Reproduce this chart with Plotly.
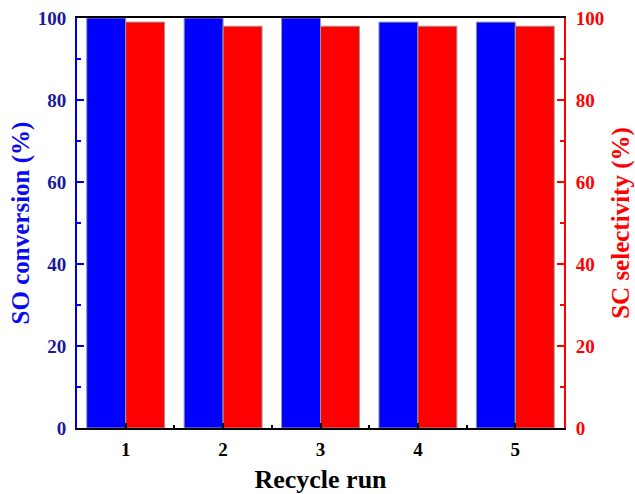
import plotly.graph_objects as go

runs = [1, 2, 3, 4, 5]
so_conversion = [100, 100, 100, 99, 99]
sc_selectivity = [99, 98, 98, 98, 98]
y_ticks = [0, 20, 40, 60, 80, 100]

FONT = "Liberation Serif"
BLUE_LINE = "#0000e6"
BLUE_LAB = "#1a1a99"
RED = "#ff0000"

fig = go.Figure()
fig.add_trace(go.Bar(x=runs, y=so_conversion, name="SO conversion",
                     marker=dict(color="#0000ff", line=dict(color="#9a9a9a", width=1)),
                     offsetgroup="a", yaxis="y"))
fig.add_trace(go.Bar(x=runs, y=sc_selectivity, name="SC selectivity",
                     marker=dict(color="#ff0000", line=dict(color="#9a9a9a", width=1)),
                     offsetgroup="b", yaxis="y2"))

fig.update_layout(
    width=635, height=494,
    margin=dict(l=77, r=71, t=18, b=66, autoexpand=False),
    paper_bgcolor="white", plot_bgcolor="white",
    showlegend=False,
    barmode="group", bargap=0.2, bargroupgap=0,
    font=dict(family=FONT),
    xaxis=dict(
        range=[0.5, 5.5], tickmode="array", tickvals=runs, ticktext=[str(r) for r in runs],
        showline=True, linecolor="black", linewidth=2, mirror=True, automargin=False,
        ticks="inside", ticklen=5, tickwidth=1.5, tickcolor="black",
        minor=dict(dtick=0.5, tick0=0.5, ticks="inside", ticklen=3, tickcolor="black", tickwidth=1.5),
        showgrid=False, zeroline=False, ticklabelstandoff=3,
        tickfont=dict(family=FONT, size=19, color="black", weight="bold"),
        title=dict(text="Recycle run", font=dict(family=FONT, size=26, color="black", weight="bold"),
                   standoff=14),
    ),
    yaxis=dict(
        range=[0, 100], tickvals=y_ticks, automargin=False,
        showline=True, linecolor=BLUE_LINE, linewidth=2,
        ticks="inside", ticklen=7, tickwidth=1.5, tickcolor=BLUE_LINE,
        minor=dict(dtick=10, ticks="inside", ticklen=4, tickcolor=BLUE_LINE, tickwidth=1.5),
        showgrid=False, zeroline=False, ticklabelstandoff=5,
        tickfont=dict(family=FONT, size=19, color=BLUE_LAB, weight="bold"),
        title=dict(text="SO conversion (%)", font=dict(family=FONT, size=25, color="#0a0af0", weight="bold"),
                   standoff=1),
    ),
    yaxis2=dict(
        range=[0, 100], tickvals=y_ticks, overlaying="y", side="right", automargin=False,
        showline=True, linecolor=RED, linewidth=2,
        ticks="inside", ticklen=7, tickwidth=1.5, tickcolor=RED,
        minor=dict(dtick=10, ticks="inside", ticklen=4, tickcolor=RED, tickwidth=1.5),
        showgrid=False, zeroline=False, ticklabelstandoff=6,
        tickfont=dict(family=FONT, size=19, color=RED, weight="bold"),
        title=dict(text="SC selectivity (%)", font=dict(family=FONT, size=25, color=RED, weight="bold"),
                   standoff=8),
    ),
)

fig.write_html("out.html")
